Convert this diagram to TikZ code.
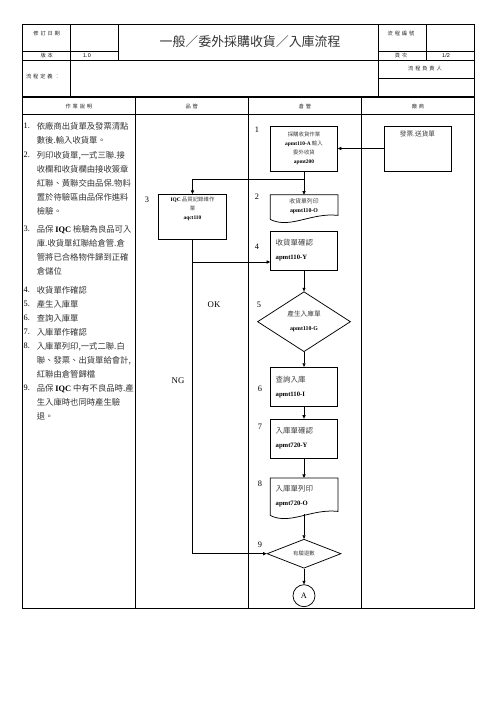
\documentclass[tikz,border=0pt]{standalone}
\usepackage{fontspec}
\setmainfont{Liberation Serif}
\newfontfamily\cjk{Noto Sans CJK TC}
\newfontfamily\cjkwide[LetterSpace=35]{Noto Sans CJK TC}
\newfontfamily\arial{Liberation Sans}
\usetikzlibrary{shapes.geometric,arrows.meta,calc}
\newcommand\lat[1]{{\rmfamily\bfseries\color{black}#1}}
\newcommand\pcode[1]{{\fontsize{8}{16.8}\selectfont\lat{#1}}}

\begin{document}
\begin{tikzpicture}[x=1.2pt,y=-1.2pt,
    tabline/.style={line width=1pt},
    cell/.style={font=\cjkwide\fontsize{6.3}{7.5}\selectfont, text=black!85, inner sep=0},
    item/.style={font=\cjk\fontsize{10}{17}\selectfont, text=black!80, align=left, inner sep=0, anchor=west},
    itemno/.style={font=\fontsize{10}{12}\selectfont, inner sep=0, anchor=west},
    stepno/.style={font=\fontsize{10}{12}\selectfont, inner sep=0},
    box/.style={draw, line width=0.9pt, minimum width=80.4pt, minimum height=46.8pt, inner sep=0},
    tiny/.style={font=\cjk\fontsize{6.5}{10.8}\selectfont, text=black!75, align=center, inner sep=0},
    big/.style={font=\cjk\fontsize{9}{16.8}\selectfont, text=black!75, text width=68pt, align=left},
    flow/.style={line width=0.8pt, -{Triangle[length=4.2pt,width=3.8pt]}},
    link/.style={line width=0.9pt}]
    \useasboundingbox (0,0) rectangle (496,702);
    \draw[tabline] (22.7,24.3) rectangle (474,96.3);
    \draw[tabline] (22.7,51.7) -- (118.3,51.7);
    \draw[tabline] (378.3,51.7) -- (474,51.7);
    \draw[tabline] (22.7,60.3) -- (474,60.3);
    \draw[tabline] (70.7,24.3) -- (70.7,96.3);
    \draw[tabline] (118.3,24.3) -- (118.3,60.3);
    \draw[tabline] (378.3,24.3) -- (378.3,96.3);
    \draw[tabline] (426.7,24.3) -- (426.7,60.3);
    \draw[tabline] (378.3,78.3) -- (474,78.3);
    \node[cell] (revdate) at (46.7,33.5) {修訂日期};
    \node[cell] (version) at (46.7,56) {版本};
    \node[font=\arial\fontsize{6.5}{8}\selectfont, inner sep=0] (vernum) at (87,56) {1.0};
    \node[font=\cjk\fontsize{15.5}{18}\selectfont, text=black!80, inner sep=0] (title) at (250,41.5) {一般／委外採購收貨／入庫流程};
    \node[cell] (flowno) at (401,33.5) {流程編號};
    \node[cell] (page) at (401,56) {頁次};
    \node[font=\arial\fontsize{6.5}{8}\selectfont, inner sep=0] (pagenum) at (446,56) {1/2};
    \node[cell, anchor=west] (flowdef) at (26,76) {流程定義：};
    \node[cell] (owner) at (425,68.5) {流程負責人};

    \draw[tabline] (22.7,97.7) rectangle (474,608.3);
    \draw[tabline] (22.7,114) -- (474,114);
    \foreach \x in {135,248.3,361.7}
        \draw[tabline] (\x,97.7) -- (\x,608.3);
    \node[cell] (work) at (78.9,106.5) {作業說明};
    \node[cell] (qc) at (191.7,106.5) {品管};
    \node[cell] (wh) at (305,106.5) {倉管};
    \node[cell] (vendor) at (418,106.5) {廠商};

    \foreach \n/\y in {1/126,2/155,3/229,4/290,5/304,6/318,7/332,8/346,9/388}
        \node[itemno] (n\n) at (23.5,\y) {\n.};
    \node[item] (t1) at (36.7,133.1) {依廠商出貨單及發票清點\\數後.輸入收貨單。};
    \node[item] (t2) at (36.7,183.3) {列印收貨單,一式三聯.接\\收欄和收貨欄由接收簽章\\紅聯、黃聯交由品保.物料\\置於待驗區由品保作進料\\檢驗。};
    \node[item] (t3) at (36.7,250.3) {品保 \lat{IQC} 檢驗為良品可入\\庫.收貨單紅聯給倉管.倉\\管將已合格物件歸到正確\\倉儲位};
    \node[item] (t4) at (36.7,290) {收貨單作確認};
    \node[item] (t5) at (36.7,304) {產生入庫單};
    \node[item] (t6) at (36.7,318) {查詢入庫單};
    \node[item] (t7) at (36.7,332) {入庫單作確認};
    \node[item] (t8) at (36.7,360.2) {入庫單列印,一式二聯.白\\聯、發票、出貨單給會計,\\紅聯由倉管歸檔};
    \node[item] (t9) at (36.7,402.2) {品保 \lat{IQC} 中有不良品時.產\\生入庫時也同時產生驗\\退。};

    \node[box, minimum height=54pt, tiny] (recv) at (304,148.5) {採購收貨作業\\\lat{apmt110-A} 輸入\\委外收貨\\\lat{apmt200}};
    \node[box, minimum height=54pt] (ship) at (417.5,148.5) {};
    \node[font=\cjk\fontsize{8}{10}\selectfont, text=black!75, inner sep=0] (shipt) at (417.5,133.5) {發票.送貨單};
    \node[box, minimum width=81.6pt, minimum height=54pt] (iqc) at (192.5,216.8) {};
    \node[tiny] (iqct) at (192.5,209) {\lat{IQC} 品質記錄維作\\業\\\lat{aqct110}};
    \node[box, draw=none, minimum height=27.6pt, tiny, font=\cjk\fontsize{7}{10.8}\selectfont] (prt) at (304,206.5) {收貨單列印\\\lat{apmt110-O}};
    \draw[link] ($(prt.south west)+(0,1)$) -- (prt.north west) -- (prt.north east) -- ($(prt.south east)+(0,-3)$)
        .. controls ($(prt.south east)+(-27,-6)$) and ($(prt.south west)+(20,11)$) .. ($(prt.south west)+(0,1)$) -- cycle;
    \node[box, big] (cfm) at (304,250.5) {收貨單確認\\\pcode{apmt110-Y}};
    \node[diamond, draw, line width=0.9pt, minimum width=111.6pt, minimum height=72pt, inner sep=0,
        font=\cjk\fontsize{8}{16.8}\selectfont, text=black!75, align=center] (gen) at (304,321.7)
        {產生入庫單\\{\fontsize{7}{16.8}\selectfont\lat{apmt110-G}}};
    \node[box, big] (qry) at (304,386.7) {查詢入庫\\\pcode{apmt110-I}};
    \node[box, big] (incfm) at (304,438.5) {入庫單確認\\\pcode{apmt720-Y}};
    \node[box, draw=none, big, minimum height=42.8pt] (inprt) at (304,496.2) {入庫單列印\\\pcode{apmt720-O}};
    \draw[link] ($(inprt.south west)+(0,1)$) -- (inprt.north west) -- (inprt.north east) -- ($(inprt.south east)+(0,-3)$)
        .. controls ($(inprt.south east)+(-27,-6)$) and ($(inprt.south west)+(20,11)$) .. ($(inprt.south west)+(0,1)$) -- cycle;
    \node[diamond, draw, line width=0.9pt, minimum width=88.8pt, minimum height=34.8pt, inner sep=0,
        font=\cjk\fontsize{6.5}{8}\selectfont, text=black!75] (ret) at (304,553.7) {有驗退數};
    \node[circle, draw, line width=0.9pt, minimum size=26.4pt, inner sep=0, font=\fontsize{10}{12}\selectfont] (conA) at (304,595.7) {A};

    \foreach \n/\x/\y in {1/257/130,2/257/197,3/147/199.5,4/257/246.7,5/259/305,6/260/388.3,7/260/426.7,8/260/483.3,9/260/545}
        \node[stepno] (s\n) at (\x,\y) {\n};
    \node[font=\fontsize{10.5}{12}\selectfont, inner sep=0] (ok) at (214,305) {OK};
    \node[font=\fontsize{10.5}{12}\selectfont, inner sep=0] (ng) at (178,380.7) {NG};

    \draw[flow] (ship.west) -- (recv.east);
    \draw[flow] (recv.south) -- (prt.north);
    \coordinate (split) at (304,179);
    \draw[flow] (split) -| (iqc.north);
    \coordinate (okpt) at (192.5,262);
    \draw[flow] (okpt) -- (okpt -| cfm.west);
    \draw[flow] (iqc.south) |- (ret.west);
    \draw[flow] (cfm.south) -- (gen.north);
    \draw[flow] (gen.south) -- (qry.north);
    \draw[flow] (qry.south) -- (incfm.north);
    \draw[flow] (incfm.south) -- (inprt.north);
    \draw[flow] (inprt.south) -- (ret.north);
    \draw[flow] (ret.south) -- (conA.north);
\end{tikzpicture}
\end{document}
